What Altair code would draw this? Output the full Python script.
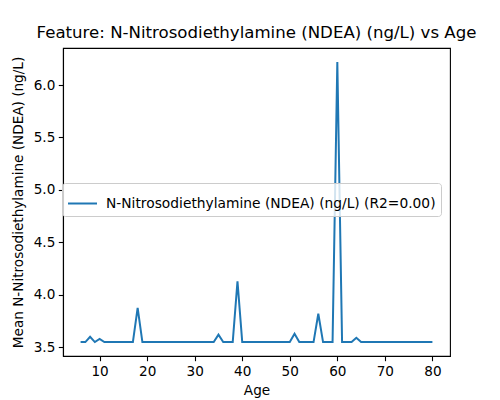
import altair as alt
import pandas as pd

ages = [6, 7, 8, 9, 10, 11, 12, 13, 14, 15, 16, 17, 18, 19, 20,
        21, 22, 23, 24, 25, 26, 27, 28, 29, 30, 31, 32, 33, 34, 35,
        36, 37, 38, 39, 40, 41, 42, 43, 44, 45, 46, 47, 48, 49, 50,
        51, 52, 53, 54, 55, 56, 57, 58, 59, 60, 61, 62, 63, 64, 65,
        66, 67, 68, 69, 70, 71, 72, 73, 74, 75, 76, 77, 78, 79, 80]
values = [3.55, 3.55, 3.60, 3.55, 3.58, 3.55, 3.55, 3.55, 3.55, 3.55, 3.55, 3.55, 3.875, 3.55, 3.55,
          3.55, 3.55, 3.55, 3.55, 3.55, 3.55, 3.55, 3.55, 3.55, 3.55, 3.55, 3.55, 3.55, 3.55, 3.62,
          3.55, 3.55, 3.55, 4.13, 3.55, 3.55, 3.55, 3.55, 3.55, 3.55, 3.55, 3.55, 3.55, 3.55, 3.55,
          3.63, 3.55, 3.55, 3.55, 3.55, 3.82, 3.55, 3.55, 3.55, 6.22, 3.55, 3.55, 3.55, 3.59, 3.55,
          3.55, 3.55, 3.55, 3.55, 3.55, 3.55, 3.55, 3.55, 3.55, 3.55, 3.55, 3.55, 3.55, 3.55, 3.55]
series_name = "N-Nitrosodiethylamine (NDEA) (ng/L) (R2=0.00)"
x_ticks = [10, 20, 30, 40, 50, 60, 70, 80]
y_ticks = [3.5, 4.0, 4.5, 5.0, 5.5, 6.0]

df = pd.DataFrame({"Age": ages, "value": values, "series": [series_name] * len(ages)})

FONT = "DejaVu Sans"

chart = alt.Chart(df).mark_line(strokeWidth=2, clip=True).encode(
    x=alt.X("Age:Q", title="Age",
            scale=alt.Scale(domain=[2.3, 83.7], nice=False, zero=False),
            axis=alt.Axis(values=x_ticks, grid=False, format="d")),
    y=alt.Y("value:Q", title="Mean N-Nitrosodiethylamine (NDEA) (ng/L)",
            scale=alt.Scale(domain=[3.417, 6.353], nice=False, zero=False),
            axis=alt.Axis(values=y_ticks, grid=False, format=".1f", titlePadding=8)),
    color=alt.Color("series:N",
                    scale=alt.Scale(range=["#1f77b4"]),
                    legend=alt.Legend(title=None, orient="none", legendX=-1, legendY=135,
                                      symbolType="stroke", symbolSize=841, symbolStrokeWidth=2,
                                      labelFontSize=13.8, labelFont=FONT, labelColor="black",
                                      labelOffset=8, padding=5, labelLimit=0,
                                      fillColor="rgba(255,255,255,0.8)",
                                      strokeColor="#cccccc", cornerRadius=3)),
).properties(
    width=387,
    height=308,
    title=alt.TitleParams("Feature: N-Nitrosodiethylamine (NDEA) (ng/L) vs Age",
                          fontSize=16.6, font=FONT, fontWeight="normal", color="black",
                          baseline="alphabetic", offset=-7, anchor="middle"),
    autosize=alt.AutoSizeParams(type="none"),
    padding={"left": 55, "top": 40, "right": 42, "bottom": 50},
).configure_view(
    stroke="black", strokeWidth=1.1
).configure_axis(
    labelFont=FONT, labelFontSize=13.6, labelColor="black",
    titleFont=FONT, titleFontSize=13.6, titleFontWeight="normal", titleColor="black",
    tickColor="black", tickSize=4.7, tickWidth=1.1, labelPadding=3.5,
    domainColor="black", domainWidth=1.1
).configure_axisX(titlePadding=6)

chart.save("out.html", embed_options={"renderer": "svg", "actions": False})
